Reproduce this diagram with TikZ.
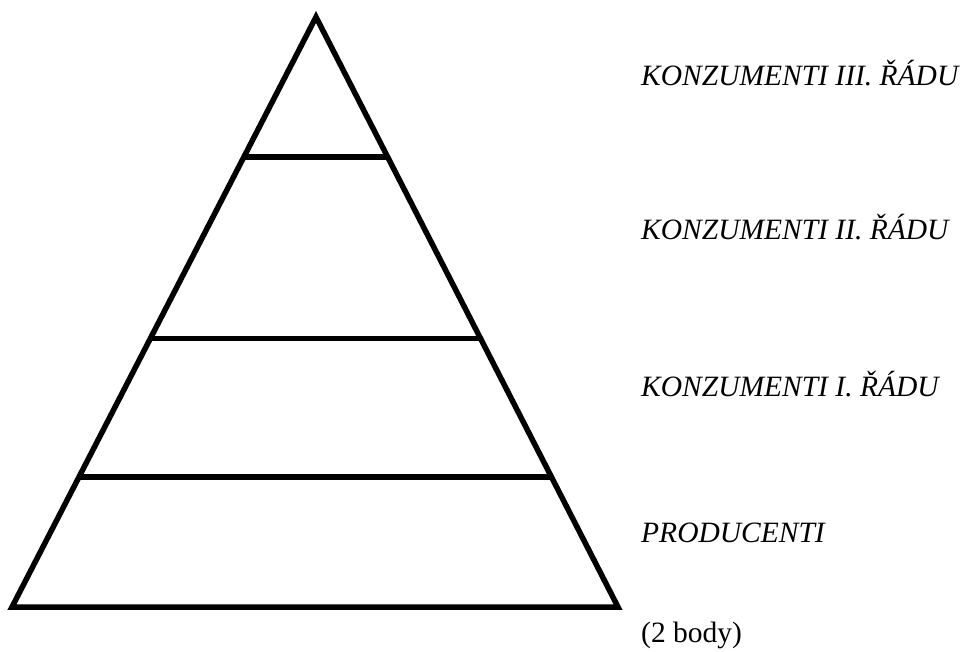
\documentclass[tikz,border=0pt]{standalone}
\usepackage{fontspec}
\setmainfont{Liberation Serif}
\usepackage{tikz}
\usetikzlibrary{calc,positioning}
\tikzset{
    edge/.style={
        line width=5.5pt,
        line join=miter
    },
    levelname/.style={
        anchor=base west,
        inner sep=0pt,
        font=\fontsize{29.5}{33}\selectfont\itshape
    }
}

\begin{document}
\begin{tikzpicture}[x=1pt,y=-1pt]
        \useasboundingbox (0,0) rectangle (966,652);
        % corners of the pyramid
        \coordinate (top) at (316,17);
        \coordinate (left) at (12,607);
        \coordinate (right) at (618,607);
        \draw[edge] (top) -- (left) -- (right) -- cycle;

        % draw level lines
        \foreach \k/\t in {1/0.237, 2/0.545, 3/0.78}
        {
            \draw[edge] ($(top)!\t!(left)$) coordinate (l\k) -- ($(top)!\t!(right)$) coordinate (r\k);
        }

        % draw level names
        \foreach \k/\y/\txt in {3/86/KONZUMENTI III. ŘÁDU, 2/240/KONZUMENTI II. ŘÁDU, 1/396/KONZUMENTI I. ŘÁDU, 0/542/PRODUCENTI}
        {
            \node[levelname] (name\k) at (641,\y) {\txt};
        }
        \node[levelname, font=\fontsize{29.5}{33}\selectfont] (points) at (641,642) {(2 body)};
    \end{tikzpicture}
\end{document}
